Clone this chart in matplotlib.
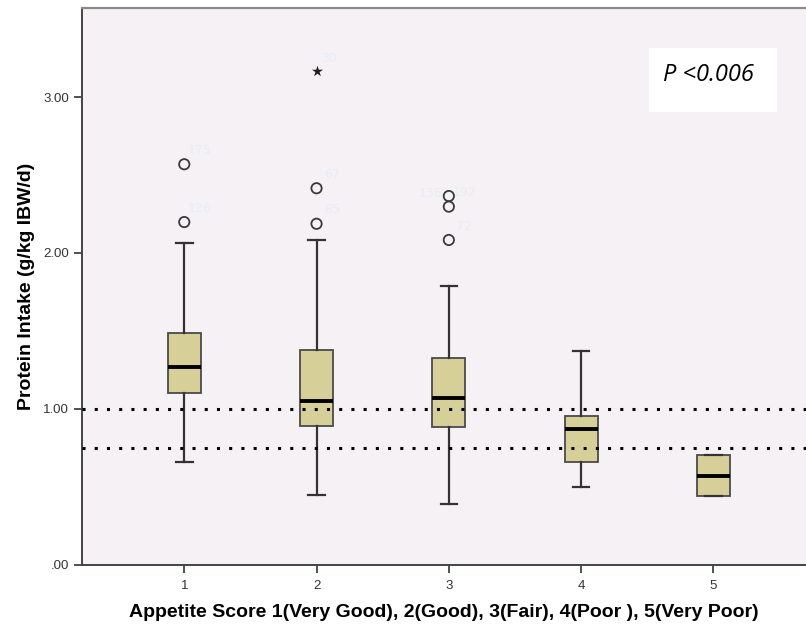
import matplotlib
matplotlib.use("Agg")
import matplotlib.pyplot as plt

# Box summaries per appetite score group
groups = [1, 2, 3, 4, 5]
whisker_low = [0.66, 0.446, 0.386, 0.497, 0.44]
q1 = [1.103, 0.889, 0.884, 0.658, 0.44]
median = [1.27, 1.047, 1.071, 0.868, 0.57]
q3 = [1.488, 1.376, 1.327, 0.951, 0.701]
whisker_high = [2.065, 2.085, 1.788, 1.37, 0.701]

# Outliers (circles) and extremes (stars) with their case numbers
outlier_group = [1, 1, 2, 2, 3, 3, 3]
outlier_value = [2.569, 2.198, 2.415, 2.187, 2.365, 2.297, 2.083]
outlier_case = ["175", "126", "67", "85", "136", "192", "72"]
extreme_group = [2]
extreme_value = [3.166]
extreme_case = ["30"]

# Reference lines for protein intake targets
ref_lines = [1.0, 0.75]

p_text = "P <0.006"

fig = plt.figure(figsize=(8.06, 6.29), dpi=100)
ax = fig.add_axes([82 / 806, 64.5 / 629, 724 / 806, 556.5 / 629])
ax.set_facecolor("#F6F1F5")

stats = []
for i, g in enumerate(groups):
    stats.append({
        "med": median[i], "q1": q1[i], "q3": q3[i],
        "whislo": whisker_low[i], "whishi": whisker_high[i],
        "fliers": [], "label": str(g),
    })

ax.bxp(stats, positions=groups, widths=0.25, patch_artist=True,
       showfliers=False,
       boxprops=dict(facecolor="#D7CF98", edgecolor="#4a4a4a", linewidth=1.3),
       medianprops=dict(color="black", linewidth=2.8, solid_capstyle="butt"),
       whiskerprops=dict(color="#333333", linewidth=1.6),
       capprops=dict(color="#333333", linewidth=1.6),
       capwidths=0.125, zorder=3)

for y in ref_lines:
    ax.axhline(y, color="black", linewidth=2.2, linestyle=(0, (1, 3)),
               dash_capstyle="butt", zorder=4)

ax.scatter(outlier_group, outlier_value, s=55, facecolors="none",
           edgecolors="#3a3a3a", linewidths=1.3, zorder=5)
ax.scatter(extreme_group, extreme_value, s=70, marker="*",
           color="#222222", linewidths=0, zorder=5)

label_color = "#E6EDF8"
for g, v, c in zip(outlier_group, outlier_value, outlier_case):
    off = (-13, 2) if c == "136" else (11, 10)
    ax.annotate(c, (g, v), xytext=off, textcoords="offset points",
                ha="center", va="center", fontsize=9, color=label_color)
for g, v, c in zip(extreme_group, extreme_value, extreme_case):
    ax.annotate(c, (g, v), xytext=(9, 9), textcoords="offset points",
                ha="center", va="center", fontsize=9, color=label_color)

ax.set_xlim(0.227, 5.70)
ax.set_ylim(0, 3.572)
ax.set_yticks([0, 1, 2, 3])
ax.set_yticklabels([".00", "1.00", "2.00", "3.00"])
ax.set_xticks(groups)
ax.set_xticklabels([str(g) for g in groups])
ax.tick_params(axis="both", colors="#333333", labelsize=9.5, length=6,
               width=1.2, labelcolor="#333333")
ax.tick_params(axis="x", pad=5)

for side in ["left", "bottom"]:
    ax.spines[side].set_color("#444444")
    ax.spines[side].set_linewidth(1.4)
ax.spines["top"].set_color("#8a8a8a")
ax.spines["top"].set_linewidth(1.6)
ax.spines["right"].set_visible(False)

ax.set_ylabel("Protein Intake (g/kg IBW/d)", fontsize=14, fontweight="bold",
              family="Liberation Sans", labelpad=6)
ax.set_xlabel("Appetite Score 1(Very Good), 2(Good), 3(Fair), 4(Poor ), 5(Very Poor)",
              fontsize=14, fontweight="bold", family="Liberation Sans", labelpad=9)
for lbl in ax.get_xticklabels() + ax.get_yticklabels():
    lbl.set_family("Liberation Sans")

# P-value box
fig.patches.append(plt.Rectangle((649 / 806, 1 - 112 / 629), 128 / 806, 64 / 629,
                                 transform=fig.transFigure, facecolor="white",
                                 edgecolor="none", zorder=10))
fig.text(708 / 806, 1 - 75 / 629, p_text, ha="center", va="center",
         fontsize=17, style="italic",
         family=["Liberation Sans Narrow", "Open Sans", "DejaVu Sans"], zorder=11)

fig.savefig("out.png", dpi=100)
